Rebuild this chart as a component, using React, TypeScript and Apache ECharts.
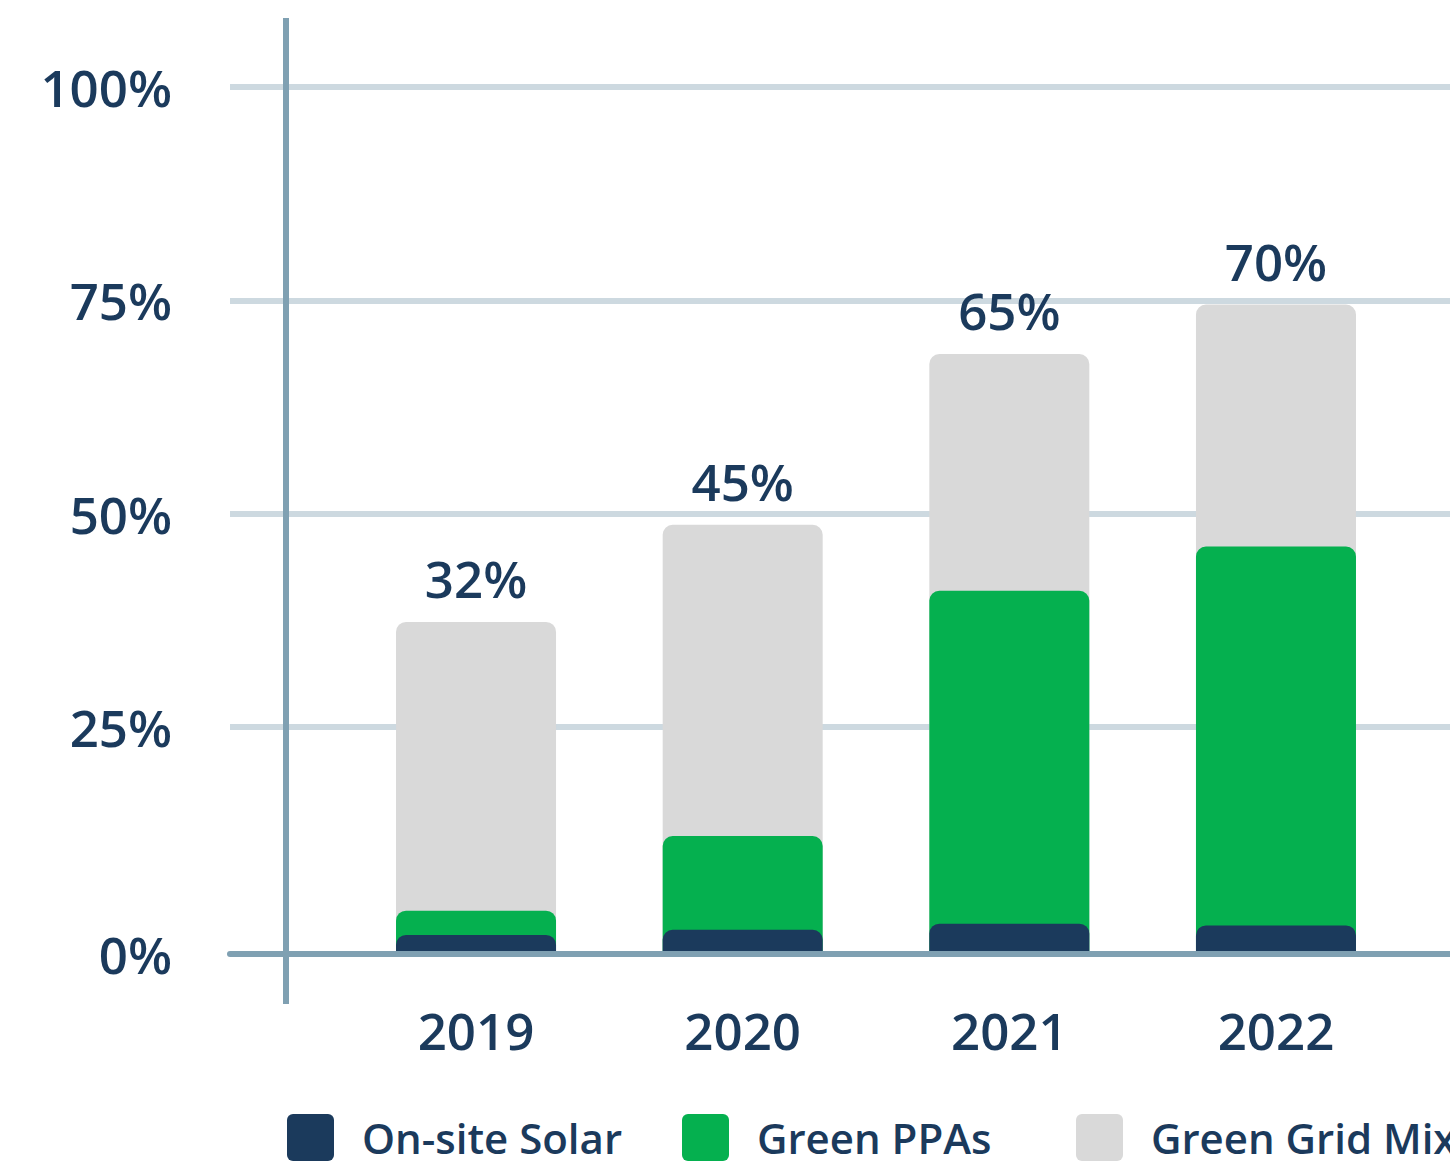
import React, { useEffect, useRef } from 'react';
import * as echarts from 'echarts';

const categories = ['2019', '2020', '2021', '2022'];
const onsiteSolar = [2.2, 2.8, 3.5, 3.3];
const greenPPAs = [2.8, 10.8, 38.4, 43.7];
const greenGridMix = [33.3, 35.9, 27.3, 27.9];
const topLabels = ['32%', '45%', '65%', '70%'];
const seriesNames = ['On-site Solar', 'Green PPAs', 'Green Grid Mix'];

const NAVY = '#1b3a5c';
const GREEN = '#05b04f';
const GREY = '#d9d9d9';
const GRIDLINE = '#cdd9e0';
const AXIS = '#7fa0b2';
const FONT = "'Open Sans', 'Noto Sans', sans-serif";

const ppaTop = onsiteSolar.map((v, i) => v + greenPPAs[i]);
const totalTop = ppaTop.map((v, i) => v + greenGridMix[i]);

const iconPath =
  'path://M6,0H41A6,6 0 0 1 47,6V41A6,6 0 0 1 41,47H6A6,6 0 0 1 0,41V6A6,6 0 0 1 6,0Z';

const legendLefts = [287, 682, 1076];

export default function App() {
  const ref = useRef<HTMLDivElement>(null);
  useEffect(() => {
    document.body.style.margin = '0';
    const chart = echarts.init(ref.current!, null, { renderer: 'svg' });
    const labelStyle = { fontSize: 51, color: NAVY, fontFamily: FONT, fontWeight: 600 };
    const option: any = {
      animation: false,
      backgroundColor: '#ffffff',
      grid: [
        { left: 342.7, right: 40.7, top: 87, bottom: 207 },
        { left: 230, right: 0, top: 87, bottom: 434 },
        { left: 230, right: 0, top: 87, bottom: 207 },
      ],
      xAxis: [
        {
          gridIndex: 0,
          type: 'category',
          data: categories,
          axisLine: { show: false },
          axisTick: { show: false },
          axisLabel: { ...labelStyle, margin: 50 },
        },
        { gridIndex: 1, type: 'value', show: false },
        {
          gridIndex: 2,
          type: 'value',
          min: 0,
          max: 1,
          z: 10,
          axisLine: { show: true, lineStyle: { color: AXIS, width: 6 } },
          axisTick: { show: false },
          axisLabel: { show: false },
          splitLine: { show: false },
        },
      ],
      yAxis: [
        { gridIndex: 0, type: 'value', min: 0, max: 100, show: false },
        {
          gridIndex: 1,
          type: 'value',
          min: 25,
          max: 100,
          interval: 25,
          axisLine: { show: false },
          axisTick: { show: false },
          splitLine: { show: true, lineStyle: { color: GRIDLINE, width: 6 } },
          axisLabel: { ...labelStyle, margin: 58, formatter: '{value}%' },
        },
        {
          gridIndex: 2,
          type: 'value',
          min: 0,
          max: 100,
          interval: 100,
          axisLine: { show: false },
          axisTick: { show: false },
          splitLine: { show: false },
          axisLabel: {
            ...labelStyle,
            margin: 58,
            formatter: (v: number) => (v === 0 ? '0%' : ''),
          },
        },
      ],
      legend: legendLefts.map((left, i) => ({
        data: [seriesNames[i]],
        left,
        top: 1114,
        padding: 0,
        itemWidth: 47,
        itemHeight: 47,
        icon: iconPath,
        selectedMode: false,
        textStyle: {
          fontSize: 42,
          lineHeight: 44,
          color: NAVY,
          fontFamily: FONT,
          fontWeight: 600,
          padding: [0, 0, 0, 23],
        },
      })),
      graphic: [
        {
          type: 'line',
          z: 100,
          shape: { x1: 286, y1: 18, x2: 286, y2: 1004 },
          style: { stroke: AXIS, lineWidth: 6 },
        },
      ],
      series: [
        {
          name: 'Green Grid Mix',
          type: 'bar',
          xAxisIndex: 0,
          yAxisIndex: 0,
          data: totalTop,
          barWidth: 160,
          barGap: '-100%',
          itemStyle: { color: GREY, borderRadius: [10, 10, 0, 0] },
          label: {
            show: true,
            position: 'top',
            distance: 14,
            lineHeight: 60,
            formatter: (p: any) => topLabels[p.dataIndex],
            ...labelStyle,
          },
        },
        {
          name: 'Green PPAs',
          type: 'bar',
          xAxisIndex: 0,
          yAxisIndex: 0,
          data: ppaTop,
          barWidth: 160,
          barGap: '-100%',
          itemStyle: { color: GREEN, borderRadius: [10, 10, 0, 0] },
        },
        {
          name: 'On-site Solar',
          type: 'bar',
          xAxisIndex: 0,
          yAxisIndex: 0,
          data: onsiteSolar,
          barWidth: 160,
          barGap: '-100%',
          itemStyle: { color: NAVY, borderRadius: [10, 10, 0, 0] },
        },
      ],
    };
    chart.setOption(option);
    return () => chart.dispose();
  }, []);
  return <div ref={ref} style={{ width: 1450, height: 1161 }} />;
}
